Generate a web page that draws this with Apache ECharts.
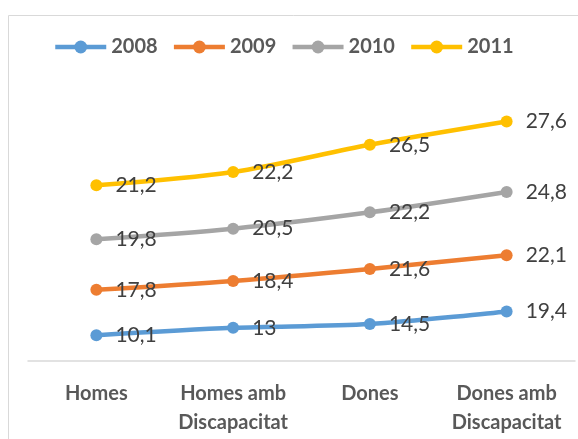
<!DOCTYPE html>
<html>
<head>
<meta charset="utf-8">
<script src="https://cdn.jsdelivr.net/npm/echarts@6/dist/echarts.min.js"></script>
<style>
  html, body { margin: 0; padding: 0; background: #fff; }
  #chart { width: 578px; height: 439px; }
</style>
</head>
<body>
<div id="chart"></div>
<script>
// categories i valors (línies apilades)
var categories = ['Homes', 'Homes amb\nDiscapacitat', 'Dones', 'Dones amb\nDiscapacitat'];
var years = ['2008', '2009', '2010', '2011'];
var values2008 = [10.1, 13, 14.5, 19.4];
var values2009 = [17.8, 18.4, 21.6, 22.1];
var values2010 = [19.8, 20.5, 22.2, 24.8];
var values2011 = [21.2, 22.2, 26.5, 27.6];
var colors = ['#5B9BD5', '#ED7D31', '#A5A5A5', '#FFC000'];

var font = 'Lato, "Open Sans", sans-serif';
var myChart = echarts.init(document.getElementById('chart'));

var seriesValues = [values2008, values2009, values2010, values2011];
var series = seriesValues.map(function (vals, i) {
    return {
        name: years[i],
        type: 'line',
        stack: 'total',
        smooth: 0.3,
        symbol: 'circle',
        symbolSize: 12,
        color: colors[i],
        lineStyle: { width: 4.5, color: colors[i] },
        label: {
            show: true,
            position: 'right',
            distance: 13,
            color: '#404040',
            fontFamily: font,
            fontSize: 21,
            formatter: function (p) { return String(p.value).replace('.', ','); }
        },
        data: vals
    };
});

myChart.setOption({
    animation: false,
    graphic: [{
        type: 'rect',
        shape: { x: 8.5, y: 15.5, width: 600, height: 500 },
        style: { fill: 'none', stroke: '#d9d9d9', lineWidth: 1 },
        silent: true
    }],
    legend: {
        top: 32,
        left: 48,
        itemWidth: 51,
        itemHeight: 16,
        itemGap: 14,
        lineStyle: { width: 4.5 },
        textStyle: { color: '#595959', fontFamily: font, fontSize: 20, fontWeight: 'bold' },
        data: years
    },
    grid: { left: 28, right: 3, top: 106, bottom: 78 },
    xAxis: {
        type: 'category',
        data: categories,
        axisLine: { lineStyle: { color: '#d9d9d9', width: 1.5 } },
        axisTick: { show: false },
        axisLabel: {
            color: '#595959',
            fontFamily: font,
            fontSize: 20,
            fontWeight: 'bold',
            lineHeight: 29,
            margin: 18,
            interval: 0
        }
    },
    yAxis: {
        type: 'value',
        min: 0,
        max: 100,
        show: false,
        splitLine: { show: false }
    },
    series: series
});
</script>
</body>
</html>
